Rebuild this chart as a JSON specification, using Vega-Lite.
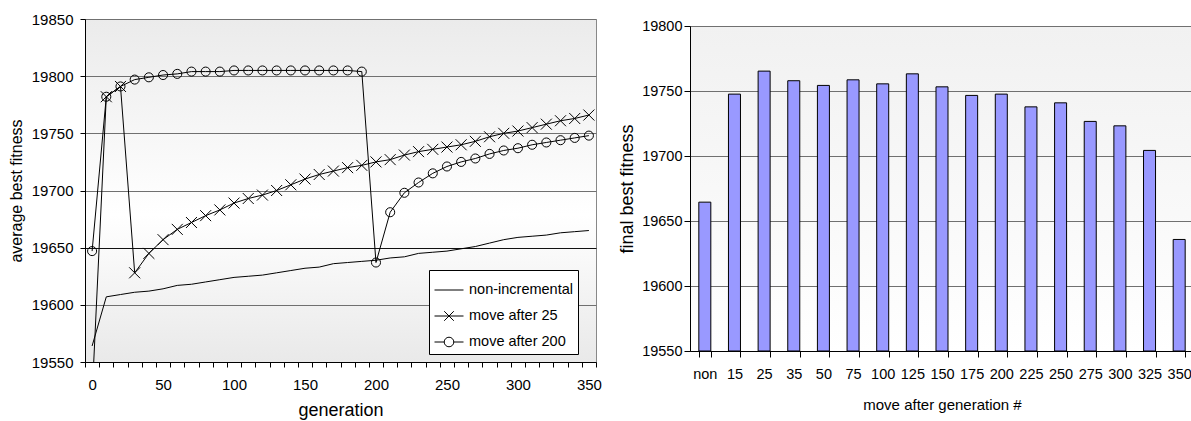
{
  "$schema": "https://vega.github.io/schema/vega-lite/v6.json",
  "padding": {"left": 7, "top": 11, "right": 0, "bottom": 0},
  "background": "white",
  "config": {
    "font": "Liberation Sans",
    "axis": {"labelColor": "black", "titleColor": "black", "domainColor": "black", "tickColor": "black", "titleFontWeight": "normal", "labelFont": "Liberation Sans", "titleFont": "Liberation Sans"}
  },
  "datasets": {
    "gens": [
      {"g": 0, "non-incremental": 19564, "move after 25": 19520, "move after 200": 19647},
      {"g": 10, "non-incremental": 19607, "move after 25": 19782, "move after 200": 19782},
      {"g": 20, "non-incremental": 19609, "move after 25": 19791, "move after 200": 19791},
      {"g": 30, "non-incremental": 19611, "move after 25": 19628, "move after 200": 19797},
      {"g": 40, "non-incremental": 19612, "move after 25": 19645, "move after 200": 19799},
      {"g": 50, "non-incremental": 19614, "move after 25": 19657, "move after 200": 19801},
      {"g": 60, "non-incremental": 19617, "move after 25": 19666, "move after 200": 19802},
      {"g": 70, "non-incremental": 19618, "move after 25": 19672, "move after 200": 19804},
      {"g": 80, "non-incremental": 19620, "move after 25": 19678, "move after 200": 19804},
      {"g": 90, "non-incremental": 19622, "move after 25": 19683, "move after 200": 19804},
      {"g": 100, "non-incremental": 19624, "move after 25": 19689, "move after 200": 19805},
      {"g": 110, "non-incremental": 19625, "move after 25": 19693, "move after 200": 19805},
      {"g": 120, "non-incremental": 19626, "move after 25": 19696, "move after 200": 19805},
      {"g": 130, "non-incremental": 19628, "move after 25": 19700, "move after 200": 19805},
      {"g": 140, "non-incremental": 19630, "move after 25": 19705, "move after 200": 19805},
      {"g": 150, "non-incremental": 19632, "move after 25": 19710, "move after 200": 19805},
      {"g": 160, "non-incremental": 19633, "move after 25": 19714, "move after 200": 19805},
      {"g": 170, "non-incremental": 19636, "move after 25": 19717, "move after 200": 19805},
      {"g": 180, "non-incremental": 19637, "move after 25": 19720, "move after 200": 19805},
      {"g": 190, "non-incremental": 19638, "move after 25": 19722, "move after 200": 19804},
      {"g": 200, "non-incremental": 19639, "move after 25": 19725, "move after 200": 19637},
      {"g": 210, "non-incremental": 19641, "move after 25": 19727, "move after 200": 19681},
      {"g": 220, "non-incremental": 19642, "move after 25": 19731, "move after 200": 19698},
      {"g": 230, "non-incremental": 19645, "move after 25": 19734, "move after 200": 19707},
      {"g": 240, "non-incremental": 19646, "move after 25": 19736, "move after 200": 19715},
      {"g": 250, "non-incremental": 19647, "move after 25": 19738, "move after 200": 19721},
      {"g": 260, "non-incremental": 19649, "move after 25": 19740, "move after 200": 19725},
      {"g": 270, "non-incremental": 19651, "move after 25": 19743, "move after 200": 19728},
      {"g": 280, "non-incremental": 19654, "move after 25": 19747, "move after 200": 19732},
      {"g": 290, "non-incremental": 19657, "move after 25": 19750, "move after 200": 19735},
      {"g": 300, "non-incremental": 19659, "move after 25": 19752, "move after 200": 19737},
      {"g": 310, "non-incremental": 19660, "move after 25": 19755, "move after 200": 19740},
      {"g": 320, "non-incremental": 19661, "move after 25": 19758, "move after 200": 19742},
      {"g": 330, "non-incremental": 19663, "move after 25": 19761, "move after 200": 19744},
      {"g": 340, "non-incremental": 19664, "move after 25": 19763, "move after 200": 19746},
      {"g": 350, "non-incremental": 19665, "move after 25": 19766, "move after 200": 19748}
    ],
    "bars": [
      {"gen": "non", "fitness": 19664.5},
      {"gen": "15", "fitness": 19747.6},
      {"gen": "25", "fitness": 19765.3},
      {"gen": "35", "fitness": 19757.9},
      {"gen": "50", "fitness": 19754.3},
      {"gen": "75", "fitness": 19758.6},
      {"gen": "100", "fitness": 19755.5},
      {"gen": "125", "fitness": 19763.2},
      {"gen": "150", "fitness": 19753.2},
      {"gen": "175", "fitness": 19746.6},
      {"gen": "200", "fitness": 19747.6},
      {"gen": "225", "fitness": 19737.8},
      {"gen": "250", "fitness": 19740.9},
      {"gen": "275", "fitness": 19726.6},
      {"gen": "300", "fitness": 19723.2},
      {"gen": "325", "fitness": 19704.3},
      {"gen": "350", "fitness": 19635.8}
    ]
  },
  "hconcat": [
    {
      "width": 511,
      "height": 343,
      "view": {
        "stroke": "#888888",
        "fill": {"gradient": "linear", "x1": 0, "y1": 0, "x2": 0, "y2": 1, "stops": [{"offset": 0, "color": "#ebebeb"}, {"offset": 0.57, "color": "#ffffff"}, {"offset": 1, "color": "#e9e9e9"}]}
      },
      "data": {"name": "gens"},
      "transform": [{"fold": ["non-incremental", "move after 25", "move after 200"], "as": ["series", "fitness"]}],
      "encoding": {
        "x": {
          "field": "g", "type": "quantitative",
          "scale": {"domain": [-5, 355], "nice": false, "zero": false},
          "axis": {
            "values": [-5, 0, 5, 15, 25, 35, 45, 50, 55, 65, 75, 85, 95, 100, 105, 115, 125, 135, 145, 150, 155, 165, 175, 185, 195, 200, 205, 215, 225, 235, 245, 250, 255, 265, 275, 285, 295, 300, 305, 315, 325, 335, 345, 350, 355],
            "labelExpr": "datum.value % 50 === 0 ? datum.label : ''",
            "tickColor": {"condition": {"test": "datum.value % 10 === 0", "value": "transparent"}, "value": "black"},
            "format": "d",
            "grid": false,
            "tickSize": 5,
            "labelPadding": 10,
            "labelFontSize": 15,
            "labelOverlap": false,
            "labelFlush": false,
            "title": "generation",
            "titleFontSize": 18,
            "titlePadding": 9
          }
        },
        "y": {
          "field": "fitness", "type": "quantitative",
          "scale": {"domain": [19550, 19850], "nice": false, "zero": false},
          "axis": {
            "values": [19550, 19600, 19650, 19700, 19750, 19800, 19850],
            "format": "d",
            "grid": true,
            "gridColor": {"condition": {"test": "datum.value === 19650", "value": "#111111"}, "value": "#707070"},
            "gridOpacity": 1,
            "tickSize": 5,
            "labelPadding": 7,
            "labelFontSize": 15,
            "title": "average best fitness",
            "titleFontSize": 16,
            "titlePadding": 7
          }
        }
      },
      "layer": [
        {
          "mark": {"type": "line", "clip": true, "strokeWidth": 1},
          "encoding": {
            "color": {
              "field": "series", "type": "nominal",
              "scale": {"domain": ["non-incremental", "move after 25", "move after 200"], "range": ["black", "black", "black"]},
              "legend": {
                "title": null,
                "orient": "none",
                "legendX": 344,
                "legendY": 251,
                "fillColor": "white",
                "strokeColor": "black",
                "padding": 5,
                "columns": 1,
                "columnPadding": 0,
                "labelFont": "Arial",
                "labelFontSize": 14.5,
                "labelColor": "black",
                "labelOffset": 5,
                "symbolSize": 841,
                "symbolStrokeWidth": 1,
                "symbolStrokeColor": "black",
                "symbolFillColor": "transparent",
                "rowPadding": 4,
                "encode": {
                  "symbols": {
                    "update": {
                      "shape": {"signal": "datum.value === 'non-incremental' ? 'M-1,0H1' : (datum.value === 'move after 25' ? 'M-1,0H1M-0.33,-0.33L0.33,0.33M-0.33,0.33L0.33,-0.33' : 'M-1,0H-0.33A0.33,0.33 0 1,1 0.33,0A0.33,0.33 0 1,1 -0.33,0M0.33,0H1')"},
                      "stroke": {"value": "black"},
                      "fill": {"value": "transparent"},
                      "strokeWidth": {"value": 1}
                    }
                  }
                }
              }
            }
          }
        },
        {
          "transform": [{"filter": "datum.series !== 'non-incremental'"}],
          "mark": {"type": "point", "clip": true, "filled": false, "stroke": "black", "strokeWidth": 1, "opacity": 1},
          "encoding": {
            "shape": {
              "field": "series", "type": "nominal",
              "scale": {"domain": ["move after 25", "move after 200"], "range": ["M-1,-1L1,1M-1,1L1,-1", "circle"]},
              "legend": null
            },
            "size": {
              "field": "series", "type": "nominal",
              "scale": {"domain": ["move after 25", "move after 200"], "range": [121, 82]},
              "legend": null
            }
          }
        }
      ]
    },
    {
      "vconcat": [
        {
          "width": 504,
          "height": 1,
          "view": {"stroke": null, "fill": null},
          "data": {"values": [{}]},
          "mark": {"type": "text", "text": ""},
          "encoding": {}
        },
        {
          "width": 504,
          "height": 325,
          "view": {
            "stroke": "#888888",
            "fill": {"gradient": "linear", "x1": 0, "y1": 0, "x2": 0, "y2": 1, "stops": [{"offset": 0, "color": "#f1f1f1"}, {"offset": 1, "color": "#ffffff"}]}
          },
          "data": {"name": "bars"},
          "mark": {"type": "bar", "fill": "#9999ff", "stroke": "black", "strokeWidth": 1},
          "encoding": {
            "x": {
              "field": "gen", "type": "nominal", "sort": null,
              "scale": {"paddingInner": 0.595, "paddingOuter": 0.2975},
              "axis": {
                "title": "move after generation #",
                "labelAngle": 0,
                "tickBand": "extent",
                "tickSize": 6,
                "labelPadding": 10,
                "labelFontSize": 14.5,
                "titleFontSize": 15,
                "titlePadding": 17
              }
            },
            "y": {
              "field": "fitness", "type": "quantitative",
              "scale": {"domain": [19550, 19800], "nice": false, "zero": false},
              "axis": {
                "values": [19550, 19600, 19650, 19700, 19750, 19800],
                "format": "d",
                "grid": true,
                "gridColor": "#707070",
                "gridOpacity": 1,
                "tickSize": 6,
                "labelPadding": 2,
                "labelFontSize": 14.5,
                "title": "final best fitness",
                "titleFontSize": 18,
                "titlePadding": 5
              }
            },
            "y2": {"datum": 19550}
          }
        }
      ],
      "spacing": 6,
      "bounds": "flush"
    }
  ],
  "spacing": 16
}
